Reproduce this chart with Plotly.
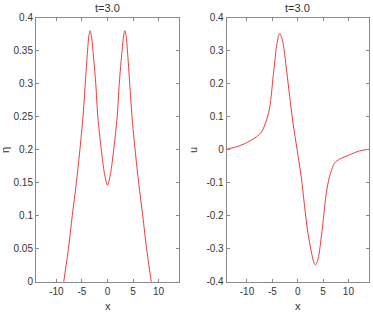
import plotly.graph_objects as go
from plotly.subplots import make_subplots

# eta(x) at t=3.0
eta_x = [-14.0, -12.0, -10.0, -8.57, -7.65, -6.9, -6.1, -5.4, -4.8, -4.35, -3.9, -3.65, -3.4, -3.15, -2.85, -2.3, -1.9, -1.2, -0.6, 0.0,
         0.6, 1.2, 1.9, 2.3, 2.85, 3.15, 3.4, 3.65, 3.9, 4.35, 4.8, 5.4, 6.1, 6.9, 7.65, 8.57, 10.0, 12.0, 14.0]
eta_y = [-0.22, -0.16, -0.08, 0.0, 0.05, 0.10, 0.15, 0.20, 0.25, 0.30, 0.35, 0.372, 0.380, 0.372, 0.35, 0.30, 0.25, 0.199, 0.164, 0.146,
         0.164, 0.199, 0.25, 0.30, 0.35, 0.372, 0.380, 0.372, 0.35, 0.30, 0.25, 0.20, 0.15, 0.10, 0.05, 0.0, -0.08, -0.16, -0.22]

# u(x) at t=3.0
u_x = [-14.0, -12.0, -10.06, -8.1, -7.1, -6.14, -5.49, -4.84, -4.18, -3.8, -3.53, -3.25, -2.88, -2.2, -1.57, -0.92, -0.1,
       0.72, 1.37, 2.02, 2.88, 3.2, 3.47, 3.75, 4.12, 4.97, 5.63, 6.27, 7.25, 8.24, 10.2, 12.16, 14.0]
u_y = [0.001, 0.009, 0.021, 0.039, 0.054, 0.090, 0.13, 0.221, 0.312, 0.343, 0.352, 0.343, 0.322, 0.241, 0.16, 0.08, -0.002,
       -0.085, -0.173, -0.253, -0.324, -0.343, -0.349, -0.343, -0.324, -0.223, -0.132, -0.082, -0.041, -0.029, -0.016, -0.004, 0.001]

x_ticks = [-10, -5, 0, 5, 10]
x_tick_text = ["-10", "-5", "0", "5", "10"]
eta_ticks = [0, 0.05, 0.1, 0.15, 0.2, 0.25, 0.3, 0.35, 0.4]
eta_tick_text = ["0", "0.05", "0.1", "0.15", "0.2", "0.25", "0.3", "0.35", "0.4"]
u_ticks = [-0.4, -0.3, -0.2, -0.1, 0, 0.1, 0.2, 0.3, 0.4]
u_tick_text = ["-0.4", "-0.3", "-0.2", "-0.1", "0", "0.1", "0.2", "0.3", "0.4"]
title_text = "t=3.0"

W, H = 373, 315
fig = make_subplots(rows=1, cols=2)
line = dict(color="#f03a3a", width=1, shape="spline", smoothing=0.8)
fig.add_trace(go.Scatter(x=eta_x, y=eta_y, mode="lines", line=line, showlegend=False), 1, 1)
fig.add_trace(go.Scatter(x=u_x, y=u_y, mode="lines", line=line, showlegend=False), 1, 2)

ax_common = dict(showline=True, linecolor="#8a8a8a", linewidth=1, mirror="ticks",
                 ticks="inside", ticklen=3, tickcolor="#8a8a8a", showgrid=False, zeroline=False,
                 automargin=False, tickangle=0,
                 tickfont=dict(family="Liberation Sans, Arial", size=10, color="#333333"))

yd = [1 - 281.7 / H, 1 - 17.5 / H]
fig.update_layout(
    template="none",
    width=W, height=H, margin=dict(l=0, r=0, t=0, b=0, pad=0),
    paper_bgcolor="white", plot_bgcolor="white",
    xaxis=dict(domain=[36 / W, 179 / W], range=[-14, 14], tickvals=x_ticks, ticktext=x_tick_text, **ax_common),
    yaxis=dict(domain=yd, range=[0, 0.4], tickvals=eta_ticks, ticktext=eta_tick_text, **ax_common),
    xaxis2=dict(domain=[226.7 / W, 368.7 / W], range=[-14, 14], tickvals=x_ticks, ticktext=x_tick_text, **ax_common),
    yaxis2=dict(domain=yd, range=[-0.4, 0.4], tickvals=u_ticks, ticktext=u_tick_text, **ax_common),
)

font_lab = dict(family="Liberation Sans, Arial", size=11, color="#333333")
ann = [
    dict(text=title_text, x=107.5 / W, y=1 - 8 / H),
    dict(text=title_text, x=297.7 / W, y=1 - 8 / H),
    dict(text="x", x=107.5 / W, y=1 - 306 / H),
    dict(text="x", x=297.7 / W, y=1 - 306 / H),
    dict(text="η", x=5 / W, y=1 - 150 / H, textangle=-90),
    dict(text="u", x=193 / W, y=1 - 150 / H, textangle=-90),
]
for a in ann:
    fig.add_annotation(xref="paper", yref="paper", xanchor="center", yanchor="middle",
                       showarrow=False, font=font_lab, **a)

fig.write_html("out.html", config={"displayModeBar": False},
               post_script="document.body.style.margin='0';document.body.style.overflow='hidden';")
